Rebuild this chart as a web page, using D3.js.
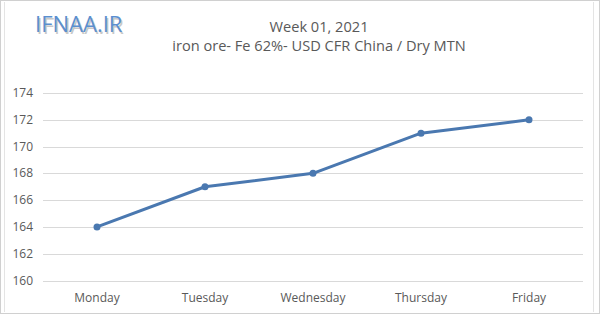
<!DOCTYPE html>
<html>
<head>
<meta charset="utf-8">
<script src="https://cdn.jsdelivr.net/npm/d3@7"></script>
<style>
  body { margin: 0; background: #fff; }
  text { font-family: "Open Sans", "DejaVu Sans", sans-serif; }
</style>
</head>
<body>
<svg id="chart" width="600" height="317"></svg>
<script>
// chart data
const days = ["Monday", "Tuesday", "Wednesday", "Thursday", "Friday"];
const prices = [164, 167, 168, 171, 172];
const yTicks = [160, 162, 164, 166, 168, 170, 172, 174];
const titleLines = ["Week 01, 2021", "iron ore- Fe 62%- USD CFR China / Dry MTN"];
const brand = "IFNAA.IR";

const svg = d3.select("#chart");
const W = 600, H = 317;
const LINE_COLOR = "#4a78b0";
const TEXT_COLOR = "#595959";

// outer frame
svg.append("rect")
  .attr("x", 0.5).attr("y", 0.5)
  .attr("width", W - 1).attr("height", 313)
  .attr("fill", "none").attr("stroke", "#d0d0d0");
svg.append("line")
  .attr("x1", 4.5).attr("y1", 2).attr("x2", 4.5).attr("y2", 312)
  .attr("stroke", "#e4e4e4");
svg.append("line")
  .attr("x1", 593.5).attr("y1", 2).attr("x2", 593.5).attr("y2", 312)
  .attr("stroke", "#e4e4e4");

let x = d3.scaleBand().domain(days).range([43, 583]);
let y = d3.scaleLinear().domain([160, 174]).range([280.5, 93]);

// gridlines
svg.append("g")
  .selectAll("line")
  .data(yTicks)
  .enter()
  .append("line")
  .attr("x1", 43).attr("x2", 583)
  .attr("y1", function(d) { return Math.round(y(d)) + 0.5; })
  .attr("y2", function(d) { return Math.round(y(d)) + 0.5; })
  .attr("stroke", "#d9d9d9");

// y labels
svg.append("g")
  .selectAll("text")
  .data(yTicks)
  .enter()
  .append("text")
  .text(function(d) { return d; })
  .attr("x", 33)
  .attr("y", function(d) { return y(d) + 4; })
  .attr("text-anchor", "end")
  .attr("font-size", 12)
  .attr("fill", TEXT_COLOR);

// x labels
svg.append("g")
  .selectAll("text")
  .data(days)
  .enter()
  .append("text")
  .text(function(d) { return d; })
  .attr("x", function(d) { return x(d) + x.bandwidth() / 2; })
  .attr("y", 302)
  .attr("text-anchor", "middle")
  .attr("font-size", 12)
  .attr("fill", TEXT_COLOR);

// series
let line = d3.line()
  .x(function(d, i) { return x(days[i]) + x.bandwidth() / 2; })
  .y(function(d) { return y(d); });

svg.append("path")
  .datum(prices)
  .attr("d", line)
  .attr("fill", "none")
  .attr("stroke", LINE_COLOR)
  .attr("stroke-width", 3)
  .attr("stroke-linejoin", "round");

svg.append("g")
  .selectAll("circle")
  .data(prices)
  .enter()
  .append("circle")
  .attr("cx", function(d, i) { return x(days[i]) + x.bandwidth() / 2; })
  .attr("cy", function(d) { return y(d); })
  .attr("r", 3.5)
  .attr("fill", LINE_COLOR);

// titles
svg.append("g")
  .selectAll("text")
  .data(titleLines)
  .enter()
  .append("text")
  .text(function(d) { return d; })
  .attr("x", 319)
  .attr("y", function(d, i) { return 32 + i * 19; })
  .attr("text-anchor", "middle")
  .attr("font-size", 14.6)
  .attr("fill", TEXT_COLOR);

// brand mark with soft shadow
svg.append("text")
  .text(brand)
  .attr("x", 35).attr("y", 32)
  .attr("font-size", 22)
  .attr("fill", "#c8c8c8")
  .attr("transform", "translate(1.5,1.5)");
svg.append("text")
  .text(brand)
  .attr("x", 35).attr("y", 32)
  .attr("font-size", 22)
  .attr("fill", "#5b8fcf");
</script>
</body>
</html>
